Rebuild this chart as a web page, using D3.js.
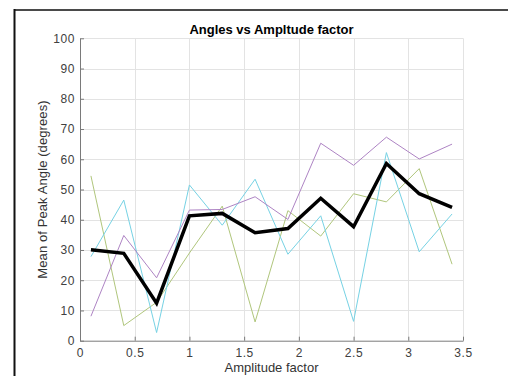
<!DOCTYPE html>
<html>
<head>
<meta charset="utf-8">
<script src="https://cdn.jsdelivr.net/npm/d3@7"></script>
<style>
  html, body { margin: 0; padding: 0; background: #fff; }
  svg { display: block; font-family: "Liberation Sans", Arial, Helvetica, sans-serif; }
</style>
</head>
<body>
<svg id="chart" width="508" height="376"></svg>
<script>
// ---- data ----
const amplitude = [0.1, 0.4, 0.7, 1.0, 1.3, 1.6, 1.9, 2.2, 2.5, 2.8, 3.1, 3.4];
const greenSeries  = [54.5, 5.0, 12.7, 29.0, 44.5, 6.2, 43.0, 34.6, 48.6, 45.9, 56.9, 25.3];
const cyanSeries   = [27.8, 46.5, 2.7, 51.5, 38.2, 53.4, 28.6, 41.3, 6.4, 62.2, 29.4, 41.9];
const purpleSeries = [8.1, 34.8, 20.8, 43.2, 43.4, 47.6, 40.1, 65.3, 58.0, 67.3, 60.1, 65.0];
const meanSeries   = [30.1, 28.9, 12.4, 41.3, 42.1, 35.7, 37.1, 47.1, 37.7, 58.6, 48.6, 44.1];
const xTicks = [0, 0.5, 1, 1.5, 2, 2.5, 3, 3.5];
const yTicks = [0, 10, 20, 30, 40, 50, 60, 70, 80, 90, 100];
const titleText = "Angles vs Ampltude factor";
const xLabelText = "Amplitude factor";
const yLabelText = "Mean of Peak Angle (degrees)";

const svg = d3.select("#chart");
const x = d3.scaleLinear().domain([0, 3.5]).range([80, 463]);
const y = d3.scaleLinear().domain([0, 100]).range([340.7, 38.3]);

// frame of figure
svg.append("line").attr("x1", 14).attr("x2", 508).attr("y1", 10).attr("y2", 10)
  .attr("stroke", "#4a4a4a").attr("stroke-width", 2);
svg.append("line").attr("x1", 14.5).attr("x2", 14.5).attr("y1", 9).attr("y2", 376)
  .attr("stroke", "#111").attr("stroke-width", 2);

// grid
const grid = svg.append("g");
grid.selectAll(".gx").data(xTicks.filter(d => d > 0)).join("line")
  .attr("x1", d => Math.round(x(d)) + 0.5).attr("x2", d => Math.round(x(d)) + 0.5)
  .attr("y1", y(100)).attr("y2", y(0))
  .attr("stroke", "#e3e3e3").attr("stroke-width", 1);
grid.selectAll(".gy").data(yTicks.filter(d => d > 0)).join("line")
  .attr("y1", d => Math.round(y(d)) + 0.5).attr("y2", d => Math.round(y(d)) + 0.5)
  .attr("x1", x(0)).attr("x2", x(3.5))
  .attr("stroke", "#e3e3e3").attr("stroke-width", 1);

// axes
const xAxis = d3.axisBottom(x).tickValues(xTicks).tickSizeInner(-4).tickSizeOuter(0).tickPadding(8)
  .tickFormat(d => String(d));
const yAxis = d3.axisLeft(y).tickValues(yTicks).tickSizeInner(-4).tickSizeOuter(0).tickPadding(5)
  .tickFormat(d => String(d));

const gx = svg.append("g").attr("transform", `translate(0,${y(0)})`).call(xAxis);
const gy = svg.append("g").attr("transform", `translate(${x(0)},0)`).call(yAxis);
[gx, gy].forEach(g => {
  g.select(".domain").attr("stroke", "#7a7a7a");
  g.selectAll(".tick line").attr("stroke", "#7a7a7a");
  g.selectAll(".tick text").attr("fill", "#404040").style("font-size", "12px")
    .style("letter-spacing", "0.6px").style("font-family", '"Liberation Sans", Arial, sans-serif');
});

// lines
const line = d3.line().x((d, i) => x(amplitude[i])).y(d => y(d));
const series = [
  { v: greenSeries, c: "#b0c67c", w: 1 },
  { v: cyanSeries, c: "#76d2e4", w: 1 },
  { v: purpleSeries, c: "#ae84c4", w: 1 },
  { v: meanSeries, c: "#000000", w: 3.5 }
];
svg.append("g").selectAll("path").data(series).join("path")
  .attr("d", d => line(d.v))
  .attr("fill", "none")
  .attr("stroke", d => d.c)
  .attr("stroke-width", d => d.w)
  .attr("stroke-linejoin", "miter");

// title and labels
svg.append("text").attr("x", (x(0) + x(3.5)) / 2).attr("y", 33.5)
  .attr("text-anchor", "middle").style("font-size", "13px").style("font-weight", "bold")
  .attr("fill", "#000").text(titleText);
svg.append("text").attr("x", (x(0) + x(3.5)) / 2).attr("y", 372)
  .attr("text-anchor", "middle").style("font-size", "13px")
  .attr("fill", "#333").text(xLabelText);
svg.append("text").attr("transform", `translate(47,${(y(0) + y(100)) / 2}) rotate(-90)`)
  .attr("text-anchor", "middle").style("font-size", "13px").style("letter-spacing", "0.1px")
  .attr("fill", "#333").text(yLabelText);
</script>
</body>
</html>
